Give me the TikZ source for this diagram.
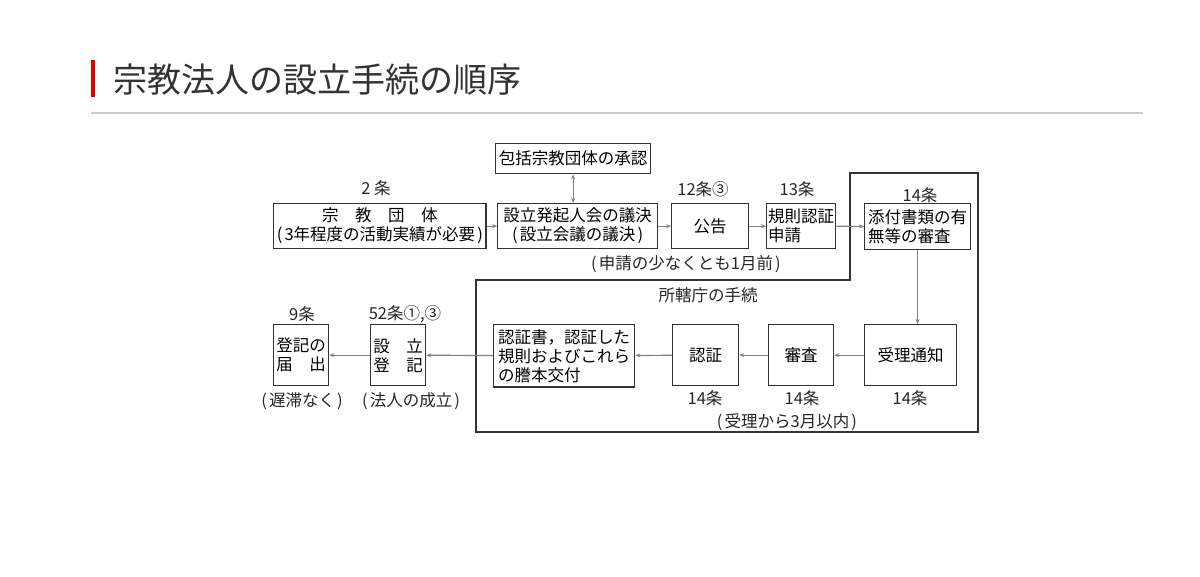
\documentclass[tikz,border=0pt]{standalone}
\usepackage{fontspec}
\setmainfont{Noto Sans CJK JP}
\usetikzlibrary{arrows.meta}
\newcommand{\lpar}{\makebox[0.6em][c]{(}}
\newcommand{\rpar}{\makebox[0.6em][c]{)}}

\begin{document}
\begin{tikzpicture}[x=1pt,y=-1pt,
  box/.style={draw=black!80,line width=1.3pt,inner sep=1pt,anchor=north west,
    font=\fontsize{16.5}{19}\selectfont},
  lbl/.style={inner sep=0pt,text=black!85,font=\fontsize{16.5}{19}\selectfont},
  arr/.style={draw=black!50,line width=1.2pt,-{Stealth[length=5pt,width=4pt]}}]
  \useasboundingbox[fill=white] (0,0) rectangle (1200,577);
  % title
  \fill[red!90!black] (91,60) rectangle (95,97);
  \node (title) [anchor=west,inner sep=0pt,text=black!80,font=\fontsize{34}{34}\selectfont] at (113,80) {宗教法人の設立手続の順序};
  \draw[black!20,line width=2.5pt] (91,113) -- (1143,113);
  % area of the office
  \draw[black!80,line width=1.3pt] (850,173) -- (978,173) -- (978,432) -- (476,432) -- (476,280) -- (850,280) -- cycle;
  % upper row
  \node[box,minimum width=211pt,minimum height=45pt,align=center] (dantai) at (273,203) {宗\hspace{1em}教\hspace{1em}団\hspace{1em}体\\\lpar 3年程度の活動実績が必要\rpar};
  \node[box,minimum width=155pt,minimum height=30pt] (hokatsu) at (495,143) {包括宗教団体の承認};
  \node[box,minimum width=160pt,minimum height=45pt,align=center] (hokki) at (497,203) {設立発起人会の議決\\\lpar 設立会議の議決\rpar};
  \node[box,minimum width=77pt,minimum height=45pt] (koukoku) at (671,203) {公告};
  \node[box,text width=66pt,inner sep=1.5pt,minimum height=45pt,align=left] (shinsei) at (766,203) {規則認証\\申請};
  \node[box,text width=99pt,inner sep=3.5pt,minimum height=46pt,align=left] (tenpu) at (864,203) {添付書類の有\\無等の審査};
  % lower row
  \node[box,minimum width=92pt,minimum height=61pt] (juri) at (864,324) {受理通知};
  \node[box,minimum width=65pt,minimum height=61pt] (shinsa) at (768,324) {審査};
  \node[box,minimum width=66pt,minimum height=61pt] (ninsho) at (672,324) {認証};
  \node[box,text width=132pt,inner sep=4.5pt,minimum height=61pt,align=left] (koufu) at (493,324) {認証書，認証した\\規則およびこれら\\の謄本交付};
  \node[box,text width=49.5pt,inner sep=2.75pt,minimum height=61pt,align=left] (touki) at (370,324) {設\hspace{1em}立\\登\hspace{1em}記};
  \node[box,text width=49.5pt,inner sep=2.75pt,minimum height=61pt,align=left] (todoke) at (273,324) {登記の\\届\hspace{1em}出};
  % labels
  \node[lbl] (j2) at (376,188) {2 条};
  \node[lbl] (j12) at (703,189) {12条③};
  \node[lbl] (j13) at (797,189) {13条};
  \node[lbl] (j14a) at (920,195) {14条};
  \node[lbl] (mae) at (686,264) {\lpar 申請の少なくとも1月前\rpar};
  \node[lbl] (chou) at (708,295) {所轄庁の手続};
  \node[lbl] (j14b) at (705,398) {14条};
  \node[lbl] (j14c) at (802,398) {14条};
  \node[lbl] (j14d) at (910,398) {14条};
  \node[lbl] (inai) at (787,422) {\lpar 受理から3月以内\rpar};
  \node[lbl] (j9) at (302,314) {9条};
  \node[lbl] (j52) at (405,314) {52条①,③};
  \node[lbl] (chitai) at (302,401) {\lpar 遅滞なく\rpar};
  \node[lbl] (seiritsu) at (411,401) {\lpar 法人の成立\rpar};
  % connectors
  \draw[arr] (dantai) -- (hokki);
  \draw[arr,{Stealth[length=5pt,width=4pt]}-{Stealth[length=5pt,width=4pt]}] (hokatsu.south) -- (hokatsu.south |- hokki.north);
  \draw[arr] (hokki) -- (koukoku);
  \draw[arr] (koukoku) -- (shinsei);
  \draw[arr] (shinsei) -- (tenpu);
  \draw[arr] (tenpu.south) -- (tenpu.south |- juri.north);
  \draw[arr] (juri) -- (shinsa);
  \draw[arr] (shinsa) -- (ninsho);
  \draw[arr] (ninsho) -- (koufu);
  \draw[arr] (koufu) -- (touki);
  \draw[arr] (touki) -- (todoke);
\end{tikzpicture}
\end{document}
